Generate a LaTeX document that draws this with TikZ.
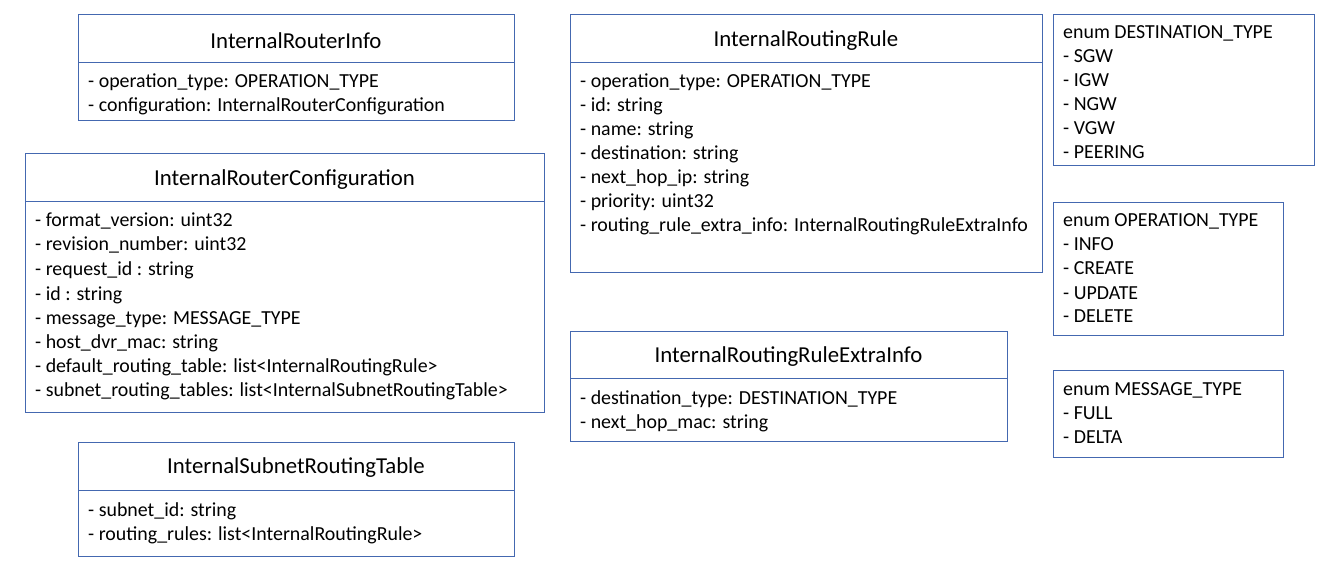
\documentclass[tikz,border=0pt]{standalone}
\usepackage{fontspec}
\setmainfont{Carlito}
\definecolor{edge}{HTML}{4468B0}
\begin{document}
\begin{tikzpicture}[x=1pt,y=-1pt,
  box/.style={draw=edge,line width=1pt,fill=white,inner sep=0pt},
  title/.style={font=\fontsize{22.8}{26}\selectfont,inner sep=0pt,anchor=center,yshift=-2pt},
  row/.style={font=\fontsize{19.9}{24}\selectfont,inner sep=0pt,anchor=base west,yshift=-1pt},
  divider/.style={draw=edge,line width=1pt}]
\useasboundingbox[fill=white] (0,0) rectangle (1322,569);

% InternalRouterInfo
\node[box,minimum width=436pt,minimum height=106pt] (rinfo) at (296,68) {};
\draw[divider] (78,63) -- (514,63);
\node[title] (rinfoT) at (296,39) {InternalRouterInfo};
\node[row] (rinfo1) at (88,87) {- operation\_type: OPERATION\_TYPE};
\node[row] (rinfo2) at (88,111) {- configuration: InternalRouterConfiguration};

% InternalRouterConfiguration
\node[box,minimum width=519pt,minimum height=258pt] (rconf) at (284.5,283) {};
\draw[divider] (25,202) -- (544,202);
\node[title] (rconfT) at (284.5,178) {InternalRouterConfiguration};
\node[row] (rc1) at (35,226) {- format\_version: uint32};
\node[row] (rc2) at (35,250) {- revision\_number: uint32};
\node[row] (rc3) at (35,275) {- request\_id : string};
\node[row] (rc4) at (35,299) {- id : string};
\node[row] (rc5) at (35,323) {- message\_type: MESSAGE\_TYPE};
\node[row] (rc6) at (35,347) {- host\_dvr\_mac: string};
\node[row] (rc7) at (35,371) {- default\_routing\_table: list<InternalRoutingRule>};
\node[row] (rc8) at (35,395) {- subnet\_routing\_tables: list<InternalSubnetRoutingTable>};

% InternalSubnetRoutingTable
\node[box,minimum width=436pt,minimum height=114pt] (srt) at (296,499) {};
\draw[divider] (78,490) -- (514,490);
\node[title] (srtT) at (296,466) {InternalSubnetRoutingTable};
\node[row] (srt1) at (88,515) {- subnet\_id: string};
\node[row] (srt2) at (88,539) {- routing\_rules: list<InternalRoutingRule>};

% InternalRoutingRule
\node[box,minimum width=472pt,minimum height=258pt] (rr) at (806,144) {};
\draw[divider] (570,63) -- (1042,63);
\node[title] (rrT) at (806,39) {InternalRoutingRule};
\node[row] (rr1) at (580,87) {- operation\_type: OPERATION\_TYPE};
\node[row] (rr2) at (580,111) {- id: string};
\node[row] (rr3) at (580,135) {- name: string};
\node[row] (rr4) at (580,159) {- destination: string};
\node[row] (rr5) at (580,183) {- next\_hop\_ip: string};
\node[row] (rr6) at (580,207) {- priority: uint32};
\node[row] (rr7) at (580,231) {- routing\_rule\_extra\_info: InternalRoutingRuleExtraInfo};

% InternalRoutingRuleExtraInfo
\node[box,minimum width=437pt,minimum height=110pt] (rre) at (788.5,386) {};
\draw[divider] (570,378) -- (1007,378);
\node[title] (rreT) at (788.5,355) {InternalRoutingRuleExtraInfo};
\node[row] (rre1) at (580,403) {- destination\_type: DESTINATION\_TYPE};
\node[row] (rre2) at (580,427) {- next\_hop\_mac: string};

% enum DESTINATION_TYPE
\node[box,minimum width=261pt,minimum height=151pt] (edt) at (1183.5,90.5) {};
\node[row] (edt0) at (1063,38) {enum DESTINATION\_TYPE};
\node[row] (edt1) at (1063,62) {- SGW};
\node[row] (edt2) at (1063,86) {- IGW};
\node[row] (edt3) at (1063,110) {- NGW};
\node[row] (edt4) at (1063,134) {- VGW};
\node[row] (edt5) at (1063,158) {- PEERING};

% enum OPERATION_TYPE
\node[box,minimum width=230pt,minimum height=132pt] (eot) at (1168,269) {};
\node[row] (eot0) at (1063,226) {enum OPERATION\_TYPE};
\node[row] (eot1) at (1063,250) {- INFO};
\node[row] (eot2) at (1063,274) {- CREATE};
\node[row] (eot3) at (1063,298) {- UPDATE};
\node[row] (eot4) at (1063,322) {- DELETE};

% enum MESSAGE_TYPE
\node[box,minimum width=230pt,minimum height=87pt] (emt) at (1168,413.5) {};
\node[row] (emt0) at (1063,394) {enum MESSAGE\_TYPE};
\node[row] (emt1) at (1063,418) {- FULL};
\node[row] (emt2) at (1063,442) {- DELTA};
\end{tikzpicture}
\end{document}
